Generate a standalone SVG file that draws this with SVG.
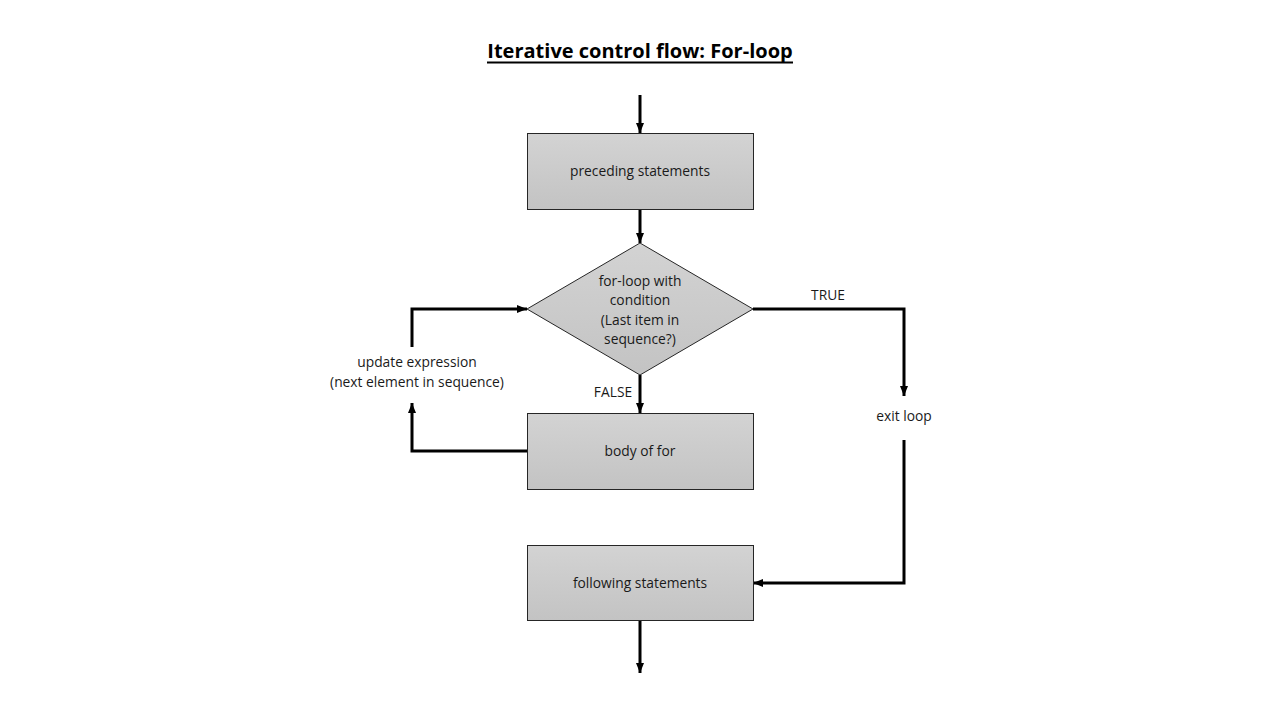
<svg xmlns="http://www.w3.org/2000/svg" width="1280" height="720" viewBox="0 0 1280 720">
<style>
.shape{fill:url(#g);stroke:#262626;stroke-width:1}
.lbl{font-family:"Open Sans","Liberation Sans",sans-serif;font-size:13.8px;fill:#1a1a1a;text-anchor:middle}
.title{font-family:"Open Sans","Liberation Sans",sans-serif;font-size:20px;font-weight:bold;fill:#000;text-anchor:middle}
.c{fill:none;stroke:#000;stroke-width:3}
</style>
<defs>
<linearGradient id="g" x1="0" y1="0" x2="0" y2="1">
<stop offset="0" stop-color="#d3d3d3"/>
<stop offset="1" stop-color="#c3c3c3"/>
</linearGradient>
<marker id="ah" markerWidth="10" markerHeight="10" viewBox="0 0 10 10" refX="10" refY="5" orient="auto" markerUnits="userSpaceOnUse">
<path d="M0,1 L10,5 L0,9 Z" fill="#000"/>
</marker>
</defs>
<rect width="1280" height="720" fill="#fff"/>
<g id="title">
<text class="title" x="640" y="58">Iterative control flow: For-loop</text>
<line x1="487" y1="62.5" x2="793" y2="62.5" stroke="#000" stroke-width="2"/>
</g>
<g id="connectors">
<line class="c" x1="640" y1="95" x2="640" y2="133" marker-end="url(#ah)"/>
<line class="c" x1="640" y1="209" x2="640" y2="243" marker-end="url(#ah)"/>
<line class="c" x1="640" y1="375" x2="640" y2="413" marker-end="url(#ah)"/>
<line class="c" x1="640" y1="620" x2="640" y2="673" marker-end="url(#ah)"/>
<polyline class="c" points="527,451 412,451 412,403" marker-end="url(#ah)"/>
<polyline class="c" points="412,347 412,309 527,309" marker-end="url(#ah)"/>
<polyline class="c" points="753,309 904,309 904,396" marker-end="url(#ah)"/>
<polyline class="c" points="904,440 904,583 753,583" marker-end="url(#ah)"/>
<text class="lbl" x="828" y="300">TRUE</text>
<text class="lbl" x="613" y="397">FALSE</text>
</g>
<g id="preceding">
<rect class="shape" x="527.5" y="133.5" width="226" height="76"/>
<text class="lbl" x="640" y="176">preceding statements</text>
</g>
<g id="condition">
<polygon class="shape" points="640,243 753,309 640,375 527,309"/>
<text class="lbl" x="640" y="286">for-loop with</text>
<text class="lbl" x="640" y="305">condition</text>
<text class="lbl" x="640" y="325">(Last item in</text>
<text class="lbl" x="640" y="344">sequence?)</text>
</g>
<g id="body">
<rect class="shape" x="527.5" y="413.5" width="226" height="76"/>
<text class="lbl" x="640" y="456">body of for</text>
</g>
<g id="following">
<rect class="shape" x="527.5" y="545.5" width="226" height="75"/>
<text class="lbl" x="640" y="588">following statements</text>
</g>
<g id="update">
<text class="lbl" x="417" y="367">update expression</text>
<text class="lbl" x="417" y="387">(next element in sequence)</text>
</g>
<g id="exit">
<text class="lbl" x="904" y="421">exit loop</text>
</g>
</svg>
